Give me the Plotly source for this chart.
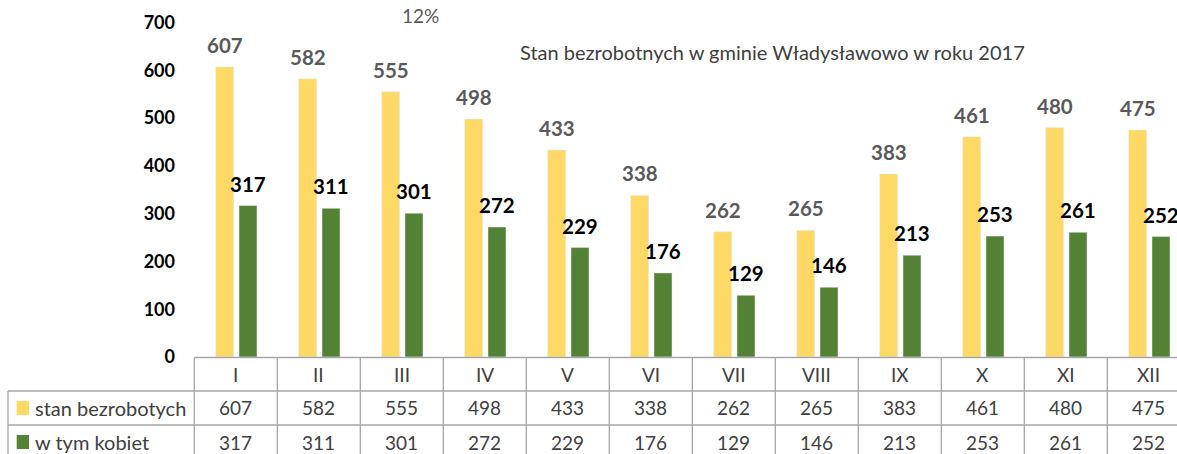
import plotly.graph_objects as go

months = ["I", "II", "III", "IV", "V", "VI", "VII", "VIII", "IX", "X", "XI", "XII"]
stan = [607, 582, 555, 498, 433, 338, 262, 265, 383, 461, 480, 475]
kobiety = [317, 311, 301, 272, 229, 176, 129, 146, 213, 253, 261, 252]
series_names = ["stan bezrobotych", "w tym kobiet"]
title_text = "Stan bezrobotnych w gminie Władysławowo w roku 2017"
yticks = [0, 100, 200, 300, 400, 500, 600, 700]

YELLOW = "#FFD966"
GREEN = "#548235"
GRID = "#A6A6A6"
FONT = "Lato"

W, H = 1177, 454
L, R, T, B = 194, 0, 10, 97
PW = W - L - R
PH = H - T - B
CAT = 83.0  # px per category
x_max = -0.5 + PW / CAT
px_per_unit = 0.4779
y_max = PH / px_per_unit

def pxx(px):
    return (px - L) / PW

def pxy(py):
    return (H - B - py) / PH

fig = go.Figure()
fig.add_trace(go.Bar(x=months, y=stan, name=series_names[0], marker_color=YELLOW,
                     width=18 / CAT, offset=-19.8 / CAT, hoverinfo="x+y"))
fig.add_trace(go.Bar(x=months, y=kobiety, name=series_names[1], marker_color=GREEN,
                     width=18 / CAT, offset=3.5 / CAT, hoverinfo="x+y"))

ann = []
for m, v in zip(months, stan):
    ann.append(dict(x=m, y=v, xref="x", yref="y", text=str(v), showarrow=False,
                    xshift=-10.8, yshift=22, yanchor="middle",
                    font=dict(family=FONT, size=20.5, color="#595959", weight="bold")))
for m, v in zip(months, kobiety):
    ann.append(dict(x=m, y=v, xref="x", yref="y", text=str(v), showarrow=False,
                    xshift=12, yshift=22, yanchor="middle",
                    font=dict(family=FONT, size=20.5, color="#000000", weight="bold")))

# title and stray label
ann.append(dict(x=pxx(772), y=pxy(52), xref="paper", yref="paper", text=title_text,
                showarrow=False, xanchor="center", yanchor="middle",
                font=dict(family=FONT, size=20, color="#404040")))
ann.append(dict(x=pxx(420), y=pxy(15), xref="paper", yref="paper", text="12%",
                showarrow=False, xanchor="center", yanchor="middle",
                font=dict(family=FONT, size=19, color="#595959")))

# data table
x0 = 194.3
row_top, row1, row2, bottom = 357.5, 391, 425, 460
shapes = []
line = dict(color=GRID, width=1.3)
for i in range(len(months) + 1):
    xp = x0 + CAT * i
    shapes.append(dict(type="line", xref="paper", yref="paper", x0=pxx(xp), x1=pxx(xp),
                       y0=pxy(row_top), y1=pxy(bottom), line=line))
shapes.append(dict(type="line", xref="paper", yref="paper", x0=pxx(x0), x1=pxx(W + 20),
                   y0=pxy(row_top), y1=pxy(row_top), line=line))
for yy in (row1, row2):
    shapes.append(dict(type="line", xref="paper", yref="paper", x0=pxx(8), x1=pxx(W + 20),
                       y0=pxy(yy), y1=pxy(yy), line=line))
shapes.append(dict(type="line", xref="paper", yref="paper", x0=pxx(8), x1=pxx(8),
                   y0=pxy(row1), y1=pxy(bottom), line=line))

tf = dict(family=FONT, size=19, color="#404040")
nf = dict(family=FONT, size=20, color="#404040")
for i, m in enumerate(months):
    cx = pxx(x0 + CAT * (i + 0.5))
    ann.append(dict(x=cx, y=pxy(374), xref="paper", yref="paper", text=m, showarrow=False,
                    xanchor="center", yanchor="middle", font=tf))
    ann.append(dict(x=cx, y=pxy(408), xref="paper", yref="paper", text=str(stan[i]),
                    showarrow=False, xanchor="center", yanchor="middle", font=tf))
    ann.append(dict(x=cx, y=pxy(442), xref="paper", yref="paper", text=str(kobiety[i]),
                    showarrow=False, xanchor="center", yanchor="middle", font=tf))

for (yc, name, col) in ((408, series_names[0], YELLOW), (442, series_names[1], GREEN)):
    shapes.append(dict(type="rect", xref="paper", yref="paper", x0=pxx(16.7), x1=pxx(29),
                       y0=pxy(yc - 7), y1=pxy(yc + 7), fillcolor=col, line=dict(width=0)))
    ann.append(dict(x=pxx(33), y=pxy(yc), xref="paper", yref="paper", text=name,
                    showarrow=False, xanchor="left", yanchor="middle", font=nf))

fig.update_layout(
    width=W, height=H,
    margin=dict(l=L, r=R, t=T, b=B, autoexpand=False),
    paper_bgcolor="white", plot_bgcolor="white",
    showlegend=False,
    barmode="group",
    annotations=ann, shapes=shapes,
    xaxis=dict(range=[-0.5, x_max], showticklabels=False, showgrid=False,
               zeroline=False, showline=False, ticks=""),
    yaxis=dict(range=[0, y_max], tickvals=yticks, showgrid=False, zeroline=False,
               showline=False, ticks="", ticklabelstandoff=18,
               tickfont=dict(family=FONT, size=18, color="#000000", weight="bold")),
)

fig.write_html("out.html", config={"displayModeBar": False},
               post_script="document.body.style.margin='0';")
